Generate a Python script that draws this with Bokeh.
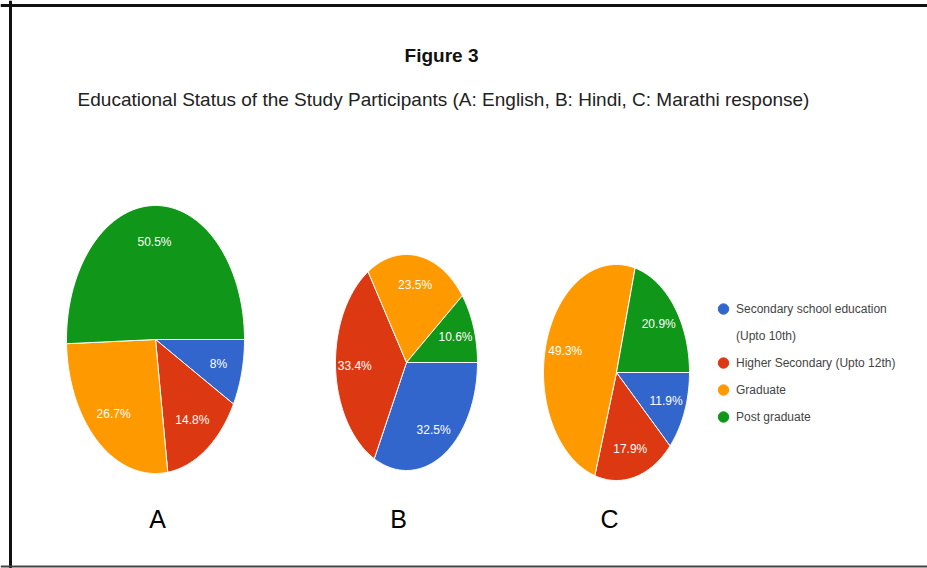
import numpy as np
from bokeh.plotting import figure
from bokeh.models import Range1d, Label, Span, Legend, LegendItem, ColumnDataSource
from bokeh.core.properties import value
from bokeh.embed import file_html
from bokeh.resources import INLINE

# ---- data ----
categories = ["Secondary school education\n(Upto 10th)", "Higher Secondary (Upto 12th)", "Graduate", "Post graduate"]
english = [8.0, 14.8, 26.7, 50.5]
hindi = [32.5, 33.4, 23.5, 10.6]
marathi = [11.9, 17.9, 49.3, 20.9]
panel_names = ["A", "B", "C"]
title_text = "Figure 3"
subtitle_text = "Educational Status of the Study Participants (A: English, B: Hindi, C: Marathi response)"

# ---- styles / layout ----
colors = ["#3366cc", "#dc3912", "#ff9900", "#109618"]
FONT = "Liberation Sans"
W, H = 927, 568
pie_geom = [(155, 339, 89, 134), (406, 362, 71, 108), (616, 372, 73, 108)]  # cx, cy, rx, ry (px)
panel_x = [157, 398, 609]
panel_y = 518
label_frac = 0.73

p = figure(width=W, height=H, x_range=Range1d(0, W), y_range=Range1d(H, 0),
           output_backend="svg", toolbar_location=None, min_border=0,
           x_axis_type=None, y_axis_type=None)
p.grid.visible = False
p.outline_line_color = None
p.background_fill_color = "white"
p.border_fill_color = "white"

for vals, (cx, cy, rx, ry) in zip([english, hindi, marathi], pie_geom):
    v = np.array(vals, dtype=float)
    frac = v / v.sum()
    ends = np.cumsum(frac) * 2 * np.pi
    starts = ends - frac * 2 * np.pi
    xs, ys = [], []
    for a0, a1 in zip(starts, ends):
        t = np.linspace(a0, a1, max(3, int((a1 - a0) / (2 * np.pi) * 360)))
        xs.append([cx] + list(cx + rx * np.cos(t)))
        ys.append([cy] + list(cy + ry * np.sin(t)))
    src = ColumnDataSource(dict(xs=xs, ys=ys, color=colors))
    p.patches("xs", "ys", fill_color="color", line_color="white", line_width=1, source=src)
    mid = (starts + ends) / 2
    lsrc = ColumnDataSource(dict(
        x=cx + label_frac * rx * np.cos(mid),
        y=cy + label_frac * ry * np.sin(mid),
        t=[f"{x:g}%" for x in vals]))
    p.text("x", "y", text="t", source=lsrc, text_color="white", text_font=value(FONT),
           text_font_size="12px", text_align="center", text_baseline="middle")

# panel letters
p.text(x=panel_x, y=[panel_y] * 3, text=panel_names, text_color="black", text_font=value(FONT),
       text_font_size="25px", text_align="center", text_baseline="middle")

# titles
p.add_layout(Label(x=441, y=55, text=title_text, text_font=FONT, text_font_style="bold",
                   text_font_size="19px", text_color="#111", text_align="center", text_baseline="middle"))
p.add_layout(Label(x=443, y=99, text=subtitle_text, text_font=FONT,
                   text_font_size="19px", text_color="#222", text_align="center", text_baseline="middle"))

# legend (one-row NaN sources: nothing drawn on the plot, only legend glyphs)
items = []
for c, cat in zip(colors, categories):
    lines = cat.split("\n")
    r = p.scatter(x=[np.nan], y=[np.nan], marker="circle", size=12, fill_color=c, line_color=c)
    items.append(LegendItem(label=lines[0], renderers=[r]))
    for extra in lines[1:]:
        b = p.scatter(x=[np.nan], y=[np.nan], marker="circle", size=1, fill_alpha=0, line_alpha=0)
        items.append(LegendItem(label=extra, renderers=[b]))
legend = Legend(items=items, location=(710, 138), orientation="vertical",
                glyph_width=26, glyph_height=27, spacing=0, padding=0, margin=0,
                label_standoff=0, label_text_font=FONT, label_text_font_size="12px",
                label_text_color="#444", border_line_color=None, background_fill_alpha=0)
p.add_layout(legend)

# frame
p.add_layout(Span(location=10, dimension="height", line_color="#111", line_width=3))
p.add_layout(Span(location=5, dimension="width", line_color="#111", line_width=3))
p.add_layout(Span(location=566, dimension="width", line_color="#444", line_width=2))

open("out.html", "w").write(file_html(p, INLINE))
